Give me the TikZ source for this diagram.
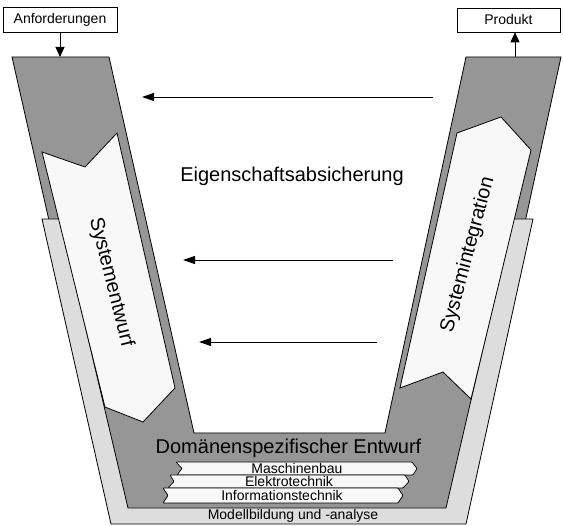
\documentclass[tikz,border=0pt]{standalone}
\usepackage{fontspec}
\setmainfont{Liberation Sans}
\usetikzlibrary{arrows.meta}

\definecolor{armgrey}{gray}{0.59}
\definecolor{basegrey}{gray}{0.865}
\definecolor{phasefill}{gray}{0.972}

\begin{document}
\begin{tikzpicture}[x=1pt, y=-1pt, line join=miter,
  armshape/.style={fill=armgrey, draw=black, line width=0.8pt},
  baseshape/.style={fill=basegrey, draw=black, line width=0.8pt},
  phaseshape/.style={fill=phasefill, draw=black, line width=0.8pt},
  banner/.style={fill=phasefill, draw=black, line width=0.7pt, rounded corners=0.8pt},
  iobox/.style={draw=black, fill=white, line width=0.7pt, inner sep=0pt,
    font=\fontsize{14}{16}\selectfont},
  bigtext/.style={inner sep=0pt, font=\fontsize{20}{24}\selectfont},
  smalltext/.style={inner sep=0pt, font=\fontsize{14}{16}\selectfont},
  flowarrow/.style={draw=black, line width=0.9pt, -{Triangle[length=12pt,width=8pt]}},
  ioarrow/.style={draw=black, line width=0.9pt, -{Triangle[length=10pt,width=9pt]}}]

\useasboundingbox (0,0) rectangle (563,526);

% dark V-shaped body with its two arms
\path[armshape] (12,57) -- (109,57) -- (194,433) -- (385,433) -- (466,57)
  -- (561,57) -- (462,512) -- (115,512) -- cycle;

% light base layer: model building and analysis
\path[baseshape] (42,219) -- (111,524) -- (466,524) -- (533,219) -- (513,219)
  -- (446,508) -- (128,508) -- (60,219) -- cycle;

% left phase: system design (arrow pointing down)
\path[phaseshape] (42,152) -- (85,167) -- (117,133) -- (175,388) -- (143,422)
  -- (105,407) -- cycle;

% right phase: system integration (arrow pointing up)
\path[phaseshape] (457,133) -- (501,117) -- (531,150) -- (471,399) -- (443,372)
  -- (400,388) -- cycle;

% domain banners
\path[banner] (176,462) -- (412,462) -- (417,468.5) -- (413,475) -- (177,475)
  -- (182,468.5) -- cycle;
\path[banner] (170,475) -- (405,475) -- (409,481.5) -- (403,488) -- (168,488)
  -- (174,481.5) -- cycle;
\path[banner] (163,488) -- (398,488) -- (403,495.5) -- (398,503) -- (163,503)
  -- (168,495.5) -- cycle;

% texts
\node[bigtext] (props) at (292,176) {Eigenschaftsabsicherung};
\node[bigtext, rotate=-76] (design) at (111,282) {Systementwurf};
\node[bigtext, rotate=75] (integ) at (468,255) {Systemintegration};
\node[bigtext] (domain) at (288.5,448) {Domänenspezifischer Entwurf};
\node[smalltext] (mech) at (297,468.5) {Maschinenbau};
\node[smalltext] (elec) at (289,481.5) {Elektrotechnik};
\node[smalltext] (info) at (282,495.5) {Informationstechnik};
\node[smalltext] (model) at (293,516) {Modellbildung und -analyse};

% input and output boxes
\node[iobox, minimum width=114pt, minimum height=25pt] (req) at (60,19.5) {Anforderungen};
\node[iobox, minimum width=103pt, minimum height=24pt] (prod) at (508.5,20) {Produkt};
\coordinate (reqin) at (60,57);
\coordinate (prodout) at (515,57);
\draw[ioarrow] (req.south) -- (reqin);
\draw[ioarrow] (prodout) -- (prodout |- prod.south);

% property assurance arrows
\coordinate (p1s) at (433,97);  \coordinate (p1e) at (142,97);
\coordinate (p2s) at (393,260); \coordinate (p2e) at (183,260);
\coordinate (p3s) at (377,342); \coordinate (p3e) at (199,342);
\draw[flowarrow] (p1s) -- (p1e);
\draw[flowarrow] (p2s) -- (p2e);
\draw[flowarrow] (p3s) -- (p3e);

\end{tikzpicture}
\end{document}
